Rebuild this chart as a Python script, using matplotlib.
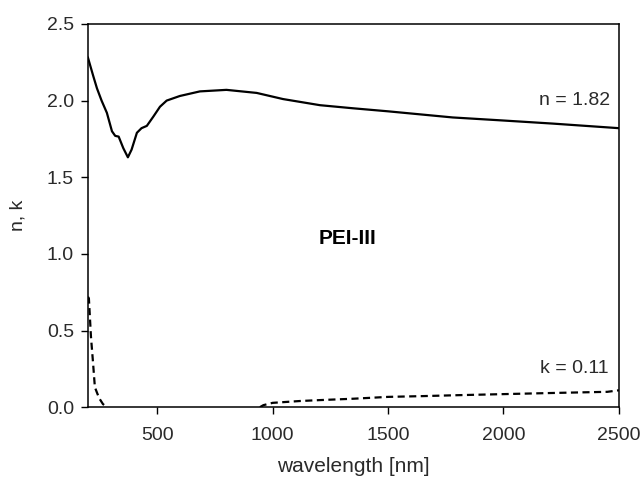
import matplotlib
matplotlib.use("Agg")
import matplotlib.pyplot as plt
import numpy as np

# Refractive index n and extinction coefficient k versus wavelength (nm)
wl_n = [200, 223, 239, 259, 282, 304, 318, 333, 353, 373, 389, 412, 432, 455,
        483, 512, 541, 598, 685, 800, 931, 1045, 1205, 1347, 1500, 1780, 2000,
        2213, 2500]
n_vals = [2.28, 2.16, 2.08, 2.00, 1.92, 1.80, 1.77, 1.765, 1.69, 1.63, 1.68,
          1.79, 1.82, 1.835, 1.895, 1.96, 2.00, 2.03, 2.06, 2.07, 2.05, 2.01,
          1.97, 1.95, 1.93, 1.89, 1.87, 1.85, 1.82]

wl_k = [200, 204, 213, 222, 230, 248, 265, 282, 945, 960, 1000, 1118, 1205,
        1350, 1500, 1650, 1800, 2000, 2200, 2450, 2500]
k_vals = [0.72, 0.71, 0.46, 0.29, 0.13, 0.06, 0.02, 0.0, 0.0, 0.013, 0.028,
          0.04, 0.046, 0.055, 0.067, 0.072, 0.078, 0.085, 0.092, 0.10, 0.11]

x_ticks = [500, 1000, 1500, 2000, 2500]
y_ticks = [0.0, 0.5, 1.0, 1.5, 2.0, 2.5]

plt.rcParams['font.family'] = ['Liberation Sans', 'DejaVu Sans']
text_color = '#2a2a2a'

fig = plt.figure(figsize=(6.42, 4.79), dpi=100)
ax = fig.add_axes([0.137, 0.150, 0.827, 0.800])

ax.plot(wl_n, n_vals, color='black', lw=1.6, solid_joinstyle='round')

# k lies on the axis between the two absorption regions; break the dashed
# line there so it is not drawn over the bottom spine
wk = np.array(wl_k, dtype=float)
kk = np.array(k_vals, dtype=float)
flat = np.zeros(len(kk), dtype=bool)
flat[1:] |= (kk[1:] == 0) & (kk[:-1] == 0)
gap = np.where(flat)[0]
wk = np.insert(wk, gap, np.nan)
kk = np.insert(kk, gap, np.nan)
ax.plot(wk, kk, color='black', lw=1.6, linestyle=(0, (3.2, 2.0)))

ax.set_xlim(200, 2500)
ax.set_ylim(0, 2.5)
ax.set_xticks(x_ticks)
ax.set_yticks(y_ticks)
ax.set_yticklabels([f"{v:.1f}" for v in y_ticks])

for s in ax.spines.values():
    s.set_linewidth(1.1)
    s.set_color('black')

ax.tick_params(axis='both', direction='out', length=5, width=1.0,
               labelsize=14, labelcolor=text_color, color='black')
ax.tick_params(axis='x', pad=9)
ax.tick_params(axis='y', pad=5)

ax.set_xlabel("wavelength [nm]", fontsize=15, color=text_color, labelpad=10)
ax.set_ylabel("n, k", fontsize=14, color=text_color, labelpad=15)

ax.text(2460, 2.0, "n = 1.82", ha='right', va='center', fontsize=14,
        color=text_color)
ax.text(2455, 0.255, "k = 0.11", ha='right', va='center', fontsize=14,
        color=text_color)
ax.text(1326, 1.10, "PEI-III", ha='center', va='center', fontsize=15,
        fontweight='bold', color='black')

fig.savefig("out.png", dpi=100)
